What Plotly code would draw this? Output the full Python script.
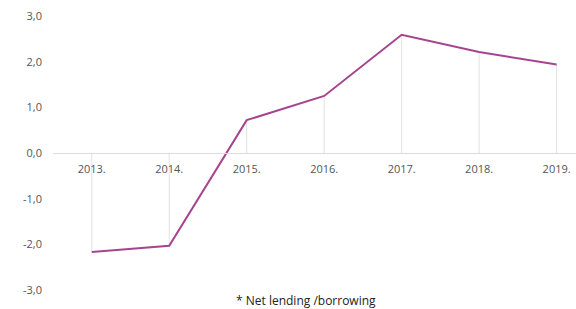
import plotly.graph_objects as go

years = ["2013.", "2014.", "2015.", "2016.", "2017.", "2018.", "2019."]
values = [-2.17, -2.03, 0.72, 1.25, 2.59, 2.21, 1.94]
y_ticks = [3, 2, 1, 0, -1, -2, -3]
y_tick_labels = ["3,0", "2,0", "1,0", "0,0", "-1,0", "-2,0", "-3,0"]
note = "* Net lending /borrowing"

# drop lines from each point to zero
dx, dy = [], []
for i, v in enumerate(values):
    dx += [i, i, None]
    dy += [0, v, None]

fig = go.Figure()
fig.add_trace(go.Scatter(x=dx, y=dy, mode="lines",
                         line=dict(color="#e2e2e2", width=1),
                         hoverinfo="skip", showlegend=False))
fig.add_trace(go.Scatter(x=list(range(len(years))), y=values, mode="lines",
                         line=dict(color="#a6448f", width=2),
                         showlegend=False))

fig.update_layout(
    width=576, height=309,
    margin=dict(l=53, r=0, t=16, b=19, autoexpand=False),
    plot_bgcolor="white", paper_bgcolor="white",
    font=dict(family="Open Sans, sans-serif", size=11, color="#555"),
    xaxis=dict(range=[-0.5, 6.25], tickmode="array",
               tickvals=list(range(len(years))), ticktext=years,
               showgrid=False, zeroline=False, showline=True,
               linecolor="#dcdcdc", linewidth=1, automargin=False,
               anchor="free", position=0.5, ticks="",
               ticklabelstandoff=6,
               tickfont=dict(size=11, color="#555")),
    yaxis=dict(range=[-3, 3], tickmode="array", tickvals=y_ticks,
               ticktext=y_tick_labels, showgrid=False, zeroline=False,
               showline=False, ticks="", ticklabelstandoff=10,
               automargin=False,
               tickfont=dict(size=11, color="#555")),
    annotations=[dict(text=note, x=0.5, xref="paper", xanchor="center",
                      y=-0.04, yref="paper", yanchor="middle",
                      showarrow=False, font=dict(size=12, color="#222"),
                      xshift=-9)],
)

fig.write_html("out.html", config={"displayModeBar": False},
               post_script="document.body.style.margin='0';document.body.style.overflow='hidden';")
